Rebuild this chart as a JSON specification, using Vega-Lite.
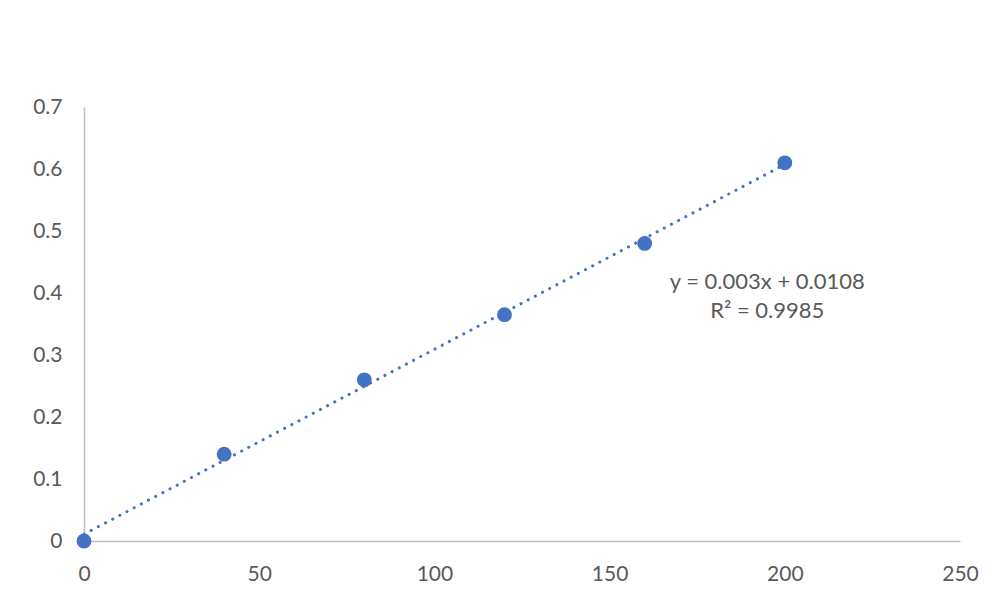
{
  "$schema": "https://vega.github.io/schema/vega-lite/v6.json",
  "width": 876,
  "height": 434,
  "autosize": "none",
  "padding": {"left": 84, "top": 107, "right": 48, "bottom": 66},
  "background": "white",
  "config": {
    "view": {"stroke": null},
    "font": "Lato",
    "axis": {"grid": false, "ticks": false, "domainColor": "#BFBFBF", "domainWidth": 1.5, "labelColor": "#595959", "labelFont": "Lato", "labelFontSize": 21, "labelFlush": false, "title": null}
  },
  "datasets": {
    "pts": [
      {"conc": 0, "abs": 0.0},
      {"conc": 40, "abs": 0.14},
      {"conc": 80, "abs": 0.26},
      {"conc": 120, "abs": 0.365},
      {"conc": 160, "abs": 0.48},
      {"conc": 200, "abs": 0.61}
    ],
    "labels": [
      {"conc": 195, "abs": 0.418, "text": "y = 0.003x + 0.0108"},
      {"conc": 195, "abs": 0.371, "text": "R² = 0.9985"}
    ]
  },
  "resolve": {"scale": {"x": "shared", "y": "shared"}},
  "layer": [
    {
      "data": {"name": "pts"},
      "transform": [{"regression": "abs", "on": "conc", "extent": [0, 200]}],
      "mark": {"type": "line", "color": "#4472C4", "strokeWidth": 3, "strokeDash": [0.1, 8], "strokeCap": "round"},
      "encoding": {
        "x": {"field": "conc", "type": "quantitative", "scale": {"domain": [0, 250], "nice": false, "zero": false}, "axis": {"values": [0, 50, 100, 150, 200, 250], "labelPadding": 22}},
        "y": {"field": "abs", "type": "quantitative", "scale": {"domain": [0, 0.7], "nice": false, "zero": false}, "axis": {"values": [0, 0.1, 0.2, 0.3, 0.4, 0.5, 0.6, 0.7], "labelPadding": 22, "format": "~g"}}
      }
    },
    {
      "data": {"name": "pts"},
      "mark": {"type": "circle", "color": "#4472C4", "size": 220, "opacity": 1},
      "encoding": {
        "x": {"field": "conc", "type": "quantitative", "scale": {"domain": [0, 250], "nice": false, "zero": false}},
        "y": {"field": "abs", "type": "quantitative", "scale": {"domain": [0, 0.7], "nice": false, "zero": false}}
      }
    },
    {
      "data": {"name": "labels"},
      "mark": {"type": "text", "font": "Lato", "fontSize": 22, "color": "#595959", "align": "center", "baseline": "middle"},
      "encoding": {
        "x": {"field": "conc", "type": "quantitative", "scale": {"domain": [0, 250], "nice": false, "zero": false}},
        "y": {"field": "abs", "type": "quantitative", "scale": {"domain": [0, 0.7], "nice": false, "zero": false}},
        "text": {"field": "text"}
      }
    }
  ]
}
